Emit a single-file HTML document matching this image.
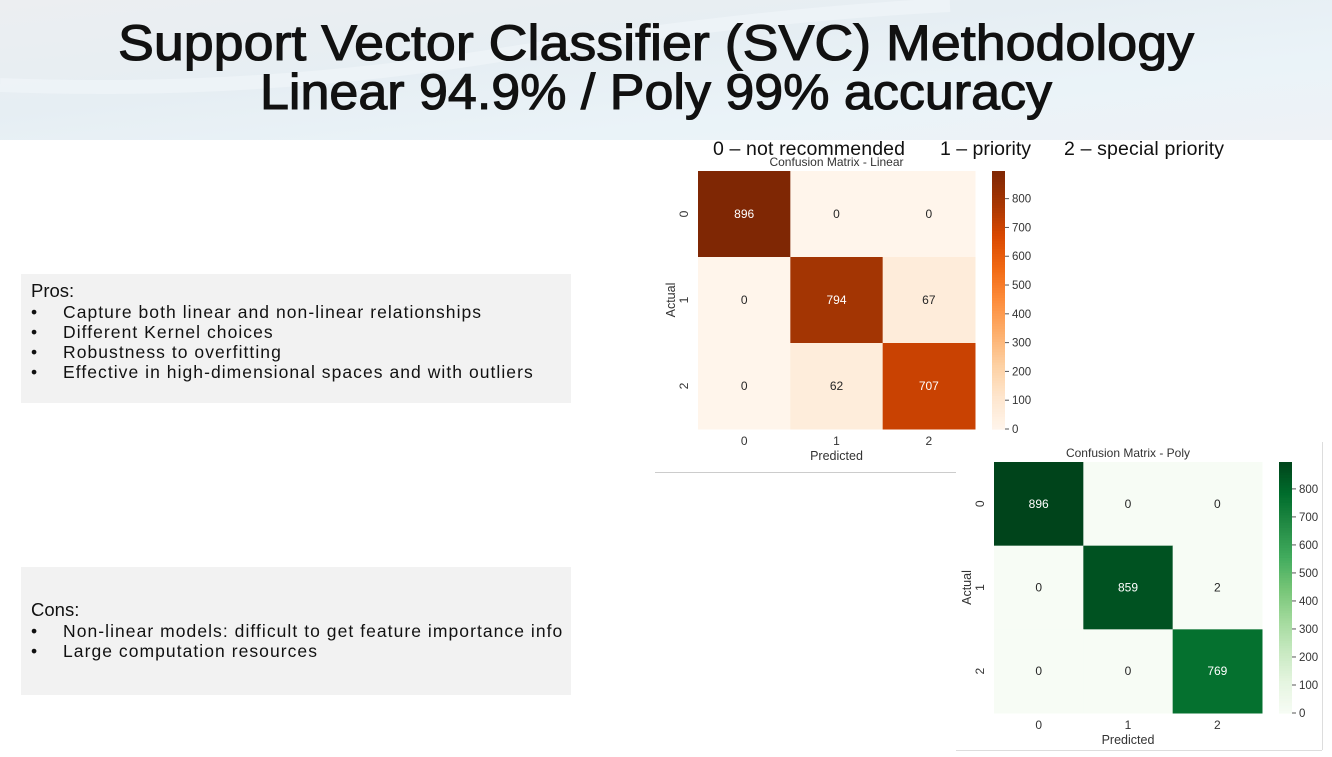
<!DOCTYPE html>
<html><head><meta charset="utf-8">
<style>
html,body{margin:0;padding:0;background:#fff;}
body{width:1332px;height:757px;overflow:hidden;position:relative;font-family:"Liberation Sans",sans-serif;}
.box{position:absolute;left:21px;width:550px;background:#f2f2f2;font-size:17.5px;color:#111;}
.box h3{margin:0;font-weight:normal;font-size:18.5px;}
.box ul{margin:0;padding:0;list-style:none;}
.box li{position:relative;padding-left:42px;line-height:20px;letter-spacing:1.05px;}
.box li:before{content:"•";position:absolute;left:10px;}
</style></head>
<body>
<svg width="1332" height="140" style="position:absolute;left:0;top:0">
<defs><linearGradient id="hg" x1="0" y1="0" x2="1" y2="1">
<stop offset="0" stop-color="#eceef1"/><stop offset="0.4" stop-color="#e6eef3"/><stop offset="0.7" stop-color="#eaf3f8"/><stop offset="1" stop-color="#eef2f6"/></linearGradient></defs>
<rect width="1332" height="140" fill="url(#hg)"/>
<path d="M0 85 Q250 95 500 55 T950 5" stroke="#f3f8fb" stroke-width="14" fill="none" opacity="0.5"/>
<text x="656" y="60" text-anchor="middle" font-size="50" fill="#111" stroke="#111" stroke-width="1.1" textLength="1076" lengthAdjust="spacingAndGlyphs" font-family="Liberation Sans, sans-serif">Support Vector Classifier (SVC) Methodology</text>
<text x="656" y="109" text-anchor="middle" font-size="50" fill="#111" stroke="#111" stroke-width="1.1" textLength="792" lengthAdjust="spacingAndGlyphs" font-family="Liberation Sans, sans-serif">Linear 94.9% / Poly 99% accuracy</text>
</svg>

<div class="box" style="top:274px;height:129px;padding-top:6px;box-sizing:border-box;padding-left:10px">
<h3>Pros:</h3>
<ul style="margin-left:-10px">
<li>Capture both linear and non-linear relationships</li>
<li>Different Kernel choices</li>
<li>Robustness to overfitting</li>
<li>Effective in high-dimensional spaces and with outliers</li>
</ul></div>

<div class="box" style="top:567px;height:128px;padding-top:32px;box-sizing:border-box;padding-left:10px">
<h3>Cons:</h3>
<ul style="margin-left:-10px">
<li>Non-linear models: difficult to get feature importance info</li>
<li>Large computation resources</li>
</ul></div>

<svg id="charts" width="1332" height="757" style="position:absolute;left:0;top:0;pointer-events:none" font-family="Liberation Sans, sans-serif">
<text x="713" y="155" font-size="19.5" fill="#111" textLength="192">0 – not recommended</text>
<text x="940" y="155" font-size="19.5" fill="#111" textLength="91">1 – priority</text>
<text x="1064" y="155" font-size="19.5" fill="#111" textLength="160">2 – special priority</text>
<line x1="655" y1="472.5" x2="956" y2="472.5" stroke="#ccc"/>
<line x1="1322.5" y1="442" x2="1322.5" y2="750" stroke="#ddd"/>
<line x1="956" y1="750.5" x2="1322" y2="750.5" stroke="#ddd"/>
</svg>

<script>
const classLabels = ["0","1","2"];
const linearValues = [[896,0,0],[0,794,67],[0,62,707]];
const polyValues = [[896,0,0],[0,859,2],[0,0,769]];
const cbTicks = [0,100,200,300,400,500,600,700,800];

const oranges=["#fff5eb","#fee6ce","#fdd0a2","#fdae6b","#fd8d3c","#f16913","#d94801","#a63603","#7f2704"];
const greens=["#f7fcf5","#e5f5e0","#c7e9c0","#a1d99b","#74c476","#41ab5d","#238b45","#006d2c","#00441b"];
function hex(c){return [1,3,5].map(i=>parseInt(c.substr(i,2),16));}
function cmap(stops,t){t=Math.max(0,Math.min(1,t));const p=t*(stops.length-1),i=Math.min(Math.floor(p),stops.length-2),f=p-i;
const a=hex(stops[i]),b=hex(stops[i+1]);return "rgb("+a.map((v,k)=>Math.round(v+(b[k]-v)*f)).join(",")+")";}
const NS="http://www.w3.org/2000/svg";
const svg=document.getElementById("charts");
function mk(tag,attrs,txt){const e=document.createElementNS(NS,tag);for(const k in attrs)e.setAttribute(k,attrs[k]);if(txt!==undefined)e.textContent=txt;svg.appendChild(e);return e;}

function heatmap(cfg,vals,stops){
  const n=classLabels.length;
  let vmax=0,vmin=Infinity;vals.forEach(r=>r.forEach(v=>{vmax=Math.max(vmax,v);vmin=Math.min(vmin,v);}));
  const cw=cfg.w/n,ch=cfg.h/n;
  const xs=j=>cfg.x+j*cw, ys=i=>cfg.y+i*ch;
  const t=mk("text",{x:cfg.x+cfg.w/2,y:cfg.y-5,"text-anchor":"middle","font-size":12,fill:"#333"},cfg.title);
  
  
  vals.forEach((row,i)=>row.forEach((v,j)=>{
    const tt=(v-vmin)/(vmax-vmin);
    const r=mk("rect",{x:xs(j),y:ys(i),width:cw+0.5,height:ch+0.5,fill:cmap(stops,tt)});
    
    
    const tx=mk("text",{x:xs(j)+cw/2,y:ys(i)+ch/2+4,"text-anchor":"middle","font-size":12,fill:tt>0.5?"#fff":"#262626"},String(v));
    
    
  }));
  classLabels.forEach((lb,k)=>{
    const a=mk("text",{x:xs(k)+cw/2,y:cfg.y+cfg.h+16,"text-anchor":"middle","font-size":12,fill:"#333"},lb);
    
    
    const cy=ys(k)+ch/2, cx=cfg.x-10;
    const b=mk("text",{x:cx,y:cy,"text-anchor":"middle","font-size":12,fill:"#333",transform:"rotate(-90 "+cx+" "+cy+")"},lb);
    
    
  });
  const xl=mk("text",{x:cfg.x+cfg.w/2,y:cfg.y+cfg.h+31,"text-anchor":"middle","font-size":12.5,fill:"#333"},"Predicted");
  
  
  const ax=cfg.x-23, ay=cfg.y+cfg.h/2;
  const yl=mk("text",{x:ax,y:ay,"text-anchor":"middle","font-size":12.5,fill:"#333",transform:"rotate(-90 "+ax+" "+ay+")"},"Actual");
  
  
  const cbx=cfg.cbx, cbw=13, steps=100;
  for(let s=0;s<steps;s++){
    const r=mk("rect",{x:cbx,y:cfg.y+cfg.h*(1-(s+1)/steps),width:cbw,height:cfg.h/steps+0.6,fill:cmap(stops,(s+0.5)/steps)});
    
    
  }
  const cy=v=>cfg.y+cfg.h*(1-(v-vmin)/(vmax-vmin));
  cbTicks.forEach(v=>{
    const l=mk("line",{x1:cbx+cbw,x2:cbx+cbw+4,y1:cy(v),y2:cy(v),stroke:"#555"});
    
    
    const tx=mk("text",{x:cbx+cbw+7,y:cy(v)+4,"font-size":11.5,fill:"#333"},String(v));
    
    
  });
}
heatmap({prefix:"linear",title:"Confusion Matrix - Linear",x:698,y:171,w:277,h:258,cbx:992},linearValues,oranges);
heatmap({prefix:"poly",title:"Confusion Matrix - Poly",x:994,y:462,w:268,h:251,cbx:1279},polyValues,greens);
</script>
</body></html>
